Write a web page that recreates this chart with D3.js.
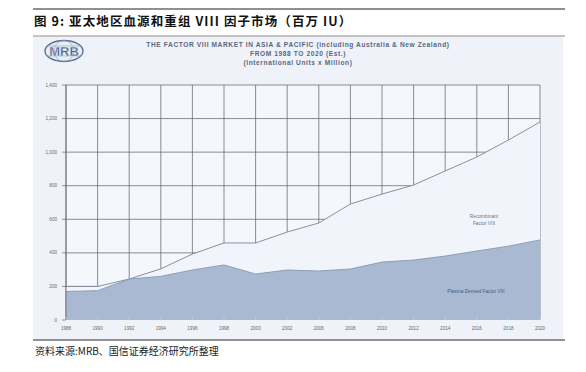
<!DOCTYPE html>
<html>
<head>
<meta charset="utf-8">
<script src="https://cdn.jsdelivr.net/npm/d3@7"></script>
<style>
  body { margin: 0; background: #fff; }
  svg { display: block; }
</style>
</head>
<body>
<div id="chart"></div>
<script>
const years = ["1988", "1990", "1992", "1994", "1996", "1998", "2000", "2002",
               "2006", "2008", "2010", "2012", "2014", "2016", "2018", "2020"]
// plasma derived factor VIII (bottom band)
const plasma = [170, 175, 244, 260, 298, 328, 274, 298, 292, 304, 345, 357, 381, 411, 440, 477]
// plasma + recombinant (top line)
const total = [200, 200, 244, 305, 393, 459, 459, 524, 578, 691, 750, 804, 888, 971, 1072, 1180]
const yTicks = [0, 200, 400, 600, 800, 1000, 1200, 1400]

const width = 586, height = 372

const svg = d3.select("#chart").append("svg")
    .attr("width", width)
    .attr("height", height)

const cjk = "'Noto Sans CJK SC', 'Noto Sans', sans-serif"

// header / footer rules
svg.append("line").attr("x1", 33).attr("x2", 565).attr("y1", 9).attr("y2", 9)
    .attr("stroke", "#222").attr("stroke-width", 1.2)
svg.append("text")
    .attr("x", 34).attr("y", 26)
    .attr("font-family", cjk).attr("font-weight", "bold").attr("font-size", 12.5)
    .attr("letter-spacing", 1.1)
    .attr("fill", "#111")
    .text("图 9:  亚太地区血源和重组 VIII 因子市场（百万 IU）")
svg.append("line").attr("x1", 33).attr("x2", 565).attr("y1", 36).attr("y2", 36)
    .attr("stroke", "#888").attr("stroke-width", 1)

// chart panel
svg.append("rect").attr("x", 33).attr("y", 37).attr("width", 530).attr("height", 302)
    .attr("fill", "#eff3f9")

svg.append("line").attr("x1", 33).attr("x2", 565).attr("y1", 340).attr("y2", 340)
    .attr("stroke", "#222").attr("stroke-width", 1.2)
svg.append("text")
    .attr("x", 35).attr("y", 355)
    .attr("font-family", cjk).attr("font-size", 10).attr("fill", "#222")
    .text("资料来源:MRB、国信证券经济研究所整理")

// logo
const logo = svg.append("g").attr("transform", "translate(64,51)")
logo.append("ellipse").attr("rx", 19).attr("ry", 10.5)
    .attr("fill", "#e8eef7").attr("stroke", "#5d6f94").attr("stroke-width", 1.4)
logo.append("ellipse").attr("rx", 10).attr("ry", 10.5)
    .attr("fill", "none").attr("stroke", "#8a9ab8").attr("stroke-width", 0.6)
logo.append("line").attr("x1", -18).attr("x2", 18).attr("y1", -5).attr("y2", -5)
    .attr("stroke", "#8a9ab8").attr("stroke-width", 0.6)
logo.append("line").attr("x1", -18).attr("x2", 18).attr("y1", 5).attr("y2", 5)
    .attr("stroke", "#8a9ab8").attr("stroke-width", 0.6)
logo.append("text").attr("text-anchor", "middle").attr("y", 4.5)
    .attr("font-family", "Liberation Sans, Arial, sans-serif").attr("font-weight", "bold")
    .attr("font-size", 13).attr("fill", "#4f6490").attr("stroke", "#e8eef7").attr("stroke-width", 0.3)
    .text("MRB")

// subtitle
const sub = ["THE FACTOR VIII MARKET IN ASIA & PACIFIC (including Australia & New Zealand)",
             "FROM 1988 TO 2020 (Est.)",
             "(International Units x Million)"]
svg.append("g").selectAll("text").data(sub).join("text")
    .attr("x", 298).attr("y", (d, i) => 47 + i * 9)
    .attr("text-anchor", "middle")
    .attr("font-family", "Liberation Sans, Arial, sans-serif").attr("font-weight", "bold")
    .attr("font-size", 6.6).attr("letter-spacing", 0.6)
    .attr("fill", "#5a6780")
    .text(d => d)

// scales
const x = d3.scalePoint().domain(years).range([66, 540])
const y = d3.scaleLinear().domain([0, 1400]).range([320, 85])

const rows = years.map((yr, i) => ({ year: yr, plasma: plasma[i], total: total[i] }))

// plot background
svg.append("rect").attr("x", 66).attr("y", y(1400)).attr("width", 474).attr("height", y(0) - y(1400))
    .attr("fill", "#f4f7fb")

// grid
const grid = svg.append("g").attr("stroke", "#5a5f6a").attr("stroke-width", 0.7)
grid.selectAll(".h").data(yTicks.slice(1)).join("line")
    .attr("x1", 66).attr("x2", 540)
    .attr("y1", d => y(d)).attr("y2", d => y(d))
grid.selectAll(".v").data(years).join("line")
    .attr("x1", d => x(d)).attr("x2", d => x(d))
    .attr("y1", y(1400)).attr("y2", y(0))

// recombinant band covers grid
svg.append("path").datum(rows)
    .attr("fill", "#f1f5fb")
    .attr("d", d3.area().x(d => x(d.year)).y0(y(0)).y1(d => y(d.total)))
svg.append("path").datum(rows)
    .attr("fill", "none").attr("stroke", "#7c8494").attr("stroke-width", 0.9)
    .attr("d", d3.line().x(d => x(d.year)).y(d => y(d.total)))

// plasma band
svg.append("path").datum(rows)
    .attr("fill", "#a9b9d2")
    .attr("d", d3.area().x(d => x(d.year)).y0(y(0)).y1(d => y(d.plasma)))
svg.append("path").datum(rows)
    .attr("fill", "none").attr("stroke", "#8797b3").attr("stroke-width", 0.9)
    .attr("d", d3.line().x(d => x(d.year)).y(d => y(d.plasma)))

// axes
svg.append("line").attr("x1", 66).attr("x2", 66).attr("y1", y(1400)).attr("y2", y(0))
    .attr("stroke", "#666").attr("stroke-width", 0.8)
svg.append("g").selectAll("line").data(yTicks).join("line")
    .attr("x1", 62).attr("x2", 66)
    .attr("y1", d => y(d)).attr("y2", d => y(d))
    .attr("stroke", "#666").attr("stroke-width", 0.7)
svg.append("g").selectAll("text").data(yTicks).join("text")
    .attr("x", 57).attr("y", d => y(d) + 1.6)
    .attr("text-anchor", "end")
    .attr("font-family", "Liberation Sans, Arial, sans-serif").attr("font-size", 4.6)
    .attr("fill", "#666")
    .text(d => d3.format(",")(d))

svg.append("g").selectAll("line").data(years).join("line")
    .attr("x1", d => x(d)).attr("x2", d => x(d))
    .attr("y1", y(0) - 3).attr("y2", y(0))
    .attr("stroke", "#c7d1e1").attr("stroke-width", 0.7)
svg.append("g").selectAll("text").data(years).join("text")
    .attr("x", d => x(d)).attr("y", 330)
    .attr("text-anchor", "middle")
    .attr("font-family", "Liberation Sans, Arial, sans-serif").attr("font-size", 4.6)
    .attr("fill", "#666")
    .text(d => d)

// series labels
const lab = svg.append("g")
    .attr("font-family", "Liberation Sans, Arial, sans-serif").attr("font-size", 4.8)
    .attr("text-anchor", "middle")
lab.append("text").attr("x", 484).attr("y", 218).attr("fill", "#6a7387").text("Recombinant")
lab.append("text").attr("x", 484).attr("y", 225).attr("fill", "#6a7387").text("Factor VIII")
lab.append("text").attr("x", 476).attr("y", 293).attr("fill", "#3f5a8c").text("Plasma Derived Factor VIII")
</script>
</body>
</html>
